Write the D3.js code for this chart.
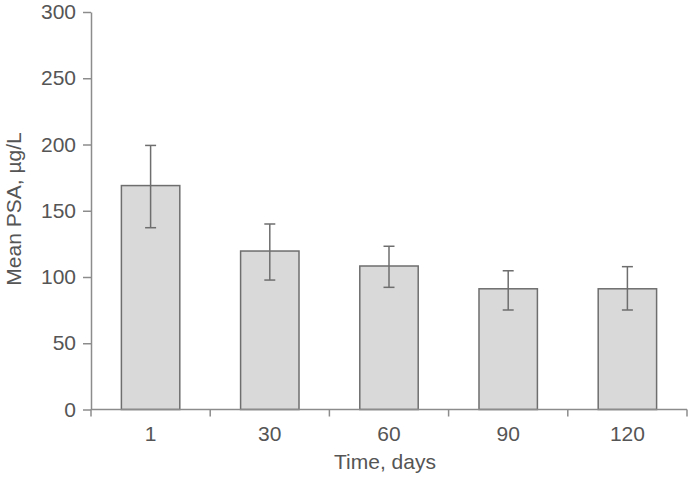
<!DOCTYPE html>
<html><head><meta charset="utf-8">
<script src="https://cdn.jsdelivr.net/npm/d3@7"></script>
<style>body{margin:0;background:#fff}svg{display:block}text{font-family:"Liberation Sans",Arial,sans-serif}</style>
</head><body><svg id="c" width="688" height="477"></svg>
<script>
const categories = ["1", "30", "60", "90", "120"];
const means = [169, 119.6, 108.3, 91.1, 91.1];
const upper = [199.3, 140, 123.2, 104.7, 107.8];
const lower = [137.2, 97.7, 92.2, 75.1, 75.1];
const yTicks = [0, 50, 100, 150, 200, 250, 300];

const svg = d3.select("#c");
const mLeft = 91, mRight = 687, mTop = 12, mBottom = 409.5;
const x = d3.scaleBand().domain(categories).range([mLeft, mRight]).paddingInner(0.51).paddingOuter(0.255);
const y = d3.scaleLinear().domain([0, 300]).range([mBottom, mTop]);
const axisCol = "#8c8c8c", textCol = "#555";

// bars
svg.selectAll("rect.bar").data(categories).join("rect")
  .attr("x", d => x(d)).attr("width", x.bandwidth())
  .attr("y", (d, i) => y(means[i])).attr("height", (d, i) => y(0) - y(means[i]))
  .attr("fill", "#d9d9d9").attr("stroke", "#6e6e6e").attr("stroke-width", 1.5);

// error bars
const cap = 5.5;
const eg = svg.append("g").attr("stroke", "#6e6e6e").attr("stroke-width", 1.5);
categories.forEach((c, i) => {
  const cx = x(c) + x.bandwidth() / 2;
  eg.append("line").attr("x1", cx).attr("x2", cx).attr("y1", y(upper[i])).attr("y2", y(lower[i]));
  eg.append("line").attr("x1", cx - cap).attr("x2", cx + cap).attr("y1", y(upper[i])).attr("y2", y(upper[i]));
  eg.append("line").attr("x1", cx - cap).attr("x2", cx + cap).attr("y1", y(lower[i])).attr("y2", y(lower[i]));
});

// y axis
const ya = svg.append("g").attr("transform", `translate(${mLeft},0)`)
  .call(d3.axisLeft(y).tickValues(yTicks).tickSize(8).tickPadding(7).tickSizeOuter(0));
ya.select(".domain").attr("stroke", axisCol).attr("stroke-width", 1.5);
ya.selectAll(".tick line").attr("stroke", axisCol).attr("stroke-width", 1.5);
ya.selectAll(".tick text").attr("fill", textCol).style("font-size", "21px").style("font-family", '"Liberation Sans",Arial,sans-serif');

// x axis: ticks at band boundaries
const xg = svg.append("g").attr("transform", `translate(0,${mBottom})`);
xg.append("line").attr("x1", mLeft).attr("x2", mRight).attr("stroke", axisCol).attr("stroke-width", 1.5);
const bounds = d3.range(categories.length + 1).map(i => mLeft + i * (mRight - mLeft) / categories.length);
xg.selectAll("line.bt").data(bounds).join("line")
  .attr("x1", d => d).attr("x2", d => d).attr("y1", 0).attr("y2", 7)
  .attr("stroke", axisCol).attr("stroke-width", 1.5);
xg.selectAll("text.lb").data(categories).join("text")
  .attr("x", d => x(d) + x.bandwidth() / 2).attr("y", 31)
  .attr("text-anchor", "middle").attr("fill", textCol).style("font-size", "21px").text(d => d);

// axis titles
svg.append("text").attr("x", 385).attr("y", 469).attr("text-anchor", "middle")
  .attr("fill", textCol).style("font-size", "21px").text("Time, days");
svg.append("text").attr("transform", "translate(21,209) rotate(-90)").attr("text-anchor", "middle")
  .attr("fill", textCol).style("font-size", "21px").text("Mean PSA, µg/L");
</script></body></html>
